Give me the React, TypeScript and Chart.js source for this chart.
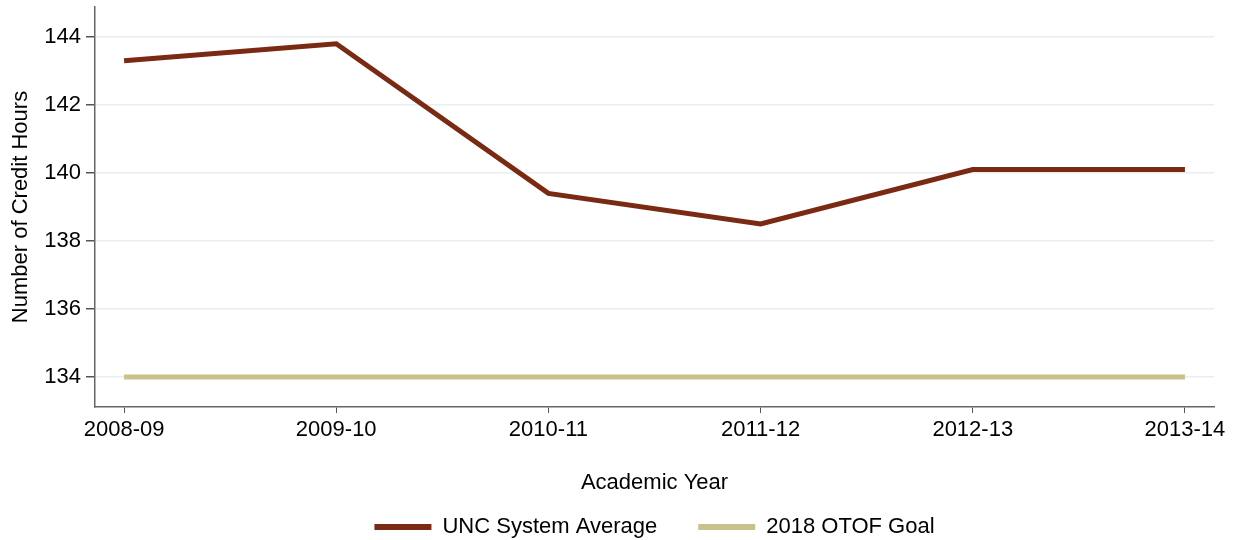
import React, { useEffect, useRef } from "react";
import { Chart, registerables } from "chart.js";

Chart.register(...registerables);

const years = ["2008-09", "2009-10", "2010-11", "2011-12", "2012-13", "2013-14"];
const uncAverage = [143.3, 143.8, 139.4, 138.5, 140.1, 140.1];
const otofGoal = [134, 134, 134, 134, 134, 134];
const yTicks = [134, 136, 138, 140, 142, 144];

const FONT = "Arial, 'Liberation Sans', sans-serif";

export default function App() {
  const ref = useRef<HTMLCanvasElement | null>(null);

  useEffect(() => {
    if (!ref.current) return;
    const chart = new Chart(ref.current, {
      type: "line",
      data: {
        datasets: [
          {
            label: "UNC System Average",
            data: uncAverage.map((v, i) => ({ x: i, y: v })),
            borderColor: "#7a2912",
            backgroundColor: "#7a2912",
            borderWidth: 5,
            pointRadius: 0,
            tension: 0,
          },
          {
            label: "2018 OTOF Goal",
            data: otofGoal.map((v, i) => ({ x: i, y: v })),
            borderColor: "#c8c28a",
            backgroundColor: "#c8c28a",
            borderWidth: 5,
            pointRadius: 0,
            tension: 0,
          },
        ],
      },
      options: {
        animation: false,
        responsive: true,
        maintainAspectRatio: false,
        layout: { padding: { top: 7, right: 23, left: 0, bottom: -8 } },
        plugins: {
          tooltip: { enabled: false },
          legend: {
            position: "bottom",
            fullSize: false,
            labels: {
              boxWidth: 57,
              boxHeight: 6,
              padding: 41,
              color: "#000",
              font: { family: FONT, size: 22 },
              generateLabels: (c: any) =>
                Chart.defaults.plugins.legend.labels
                  .generateLabels(c)
                  .map((l: any) => ({ ...l, lineWidth: 0 })),
            },
          },
        },
        scales: {
          x: {
            type: "linear",
            min: -0.137,
            max: 5.137,
            afterBuildTicks: (scale: any) => {
              scale.ticks = years.map((_, i) => ({ value: i }));
            },
            afterFit: (scale: any) => {
              scale.height = 68;
            },
            ticks: {
              color: "#000",
              font: { family: FONT, size: 22 },
              padding: 4,
              maxRotation: 0,
              autoSkip: false,
              callback: (v: any) => years[v as number] ?? "",
            },
            grid: {
              drawOnChartArea: false,
              drawTicks: true,
              tickLength: 6,
              tickColor: "#555",
            },
            border: { display: true, color: "#666", width: 1.5 },
            title: {
              display: true,
              text: "Academic Year",
              color: "#000",
              font: { family: FONT, size: 22 },
              padding: { top: 0, bottom: -21 },
            },
          },
          y: {
            type: "linear",
            min: 133.12,
            max: 144.88,
            afterBuildTicks: (scale: any) => {
              scale.ticks = yTicks.map((v) => ({ value: v }));
            },
            afterFit: (scale: any) => {
              scale.width = 95;
              scale.paddingTop = 0;
              scale.paddingBottom = 0;
            },
            ticks: {
              color: "#000",
              font: { family: FONT, size: 22 },
              padding: 5,
            },
            grid: {
              color: "#e8eef2",
              lineWidth: 1.5,
              drawTicks: true,
              tickLength: 9,
              tickColor: "#555",
            },
            border: { display: true, color: "#666", width: 1.5 },
            title: {
              display: true,
              text: "Number of Credit Hours",
              color: "#000",
              font: { family: FONT, size: 22 },
              padding: { top: 8, bottom: 4 },
            },
          },
        },
      },
    });
    return () => chart.destroy();
  }, []);

  return (
    <div
      style={{
        position: "fixed",
        left: 0,
        top: 0,
        width: 1237,
        height: 540,
        background: "#fff",
      }}
    >
      <canvas ref={ref} />
    </div>
  );
}
